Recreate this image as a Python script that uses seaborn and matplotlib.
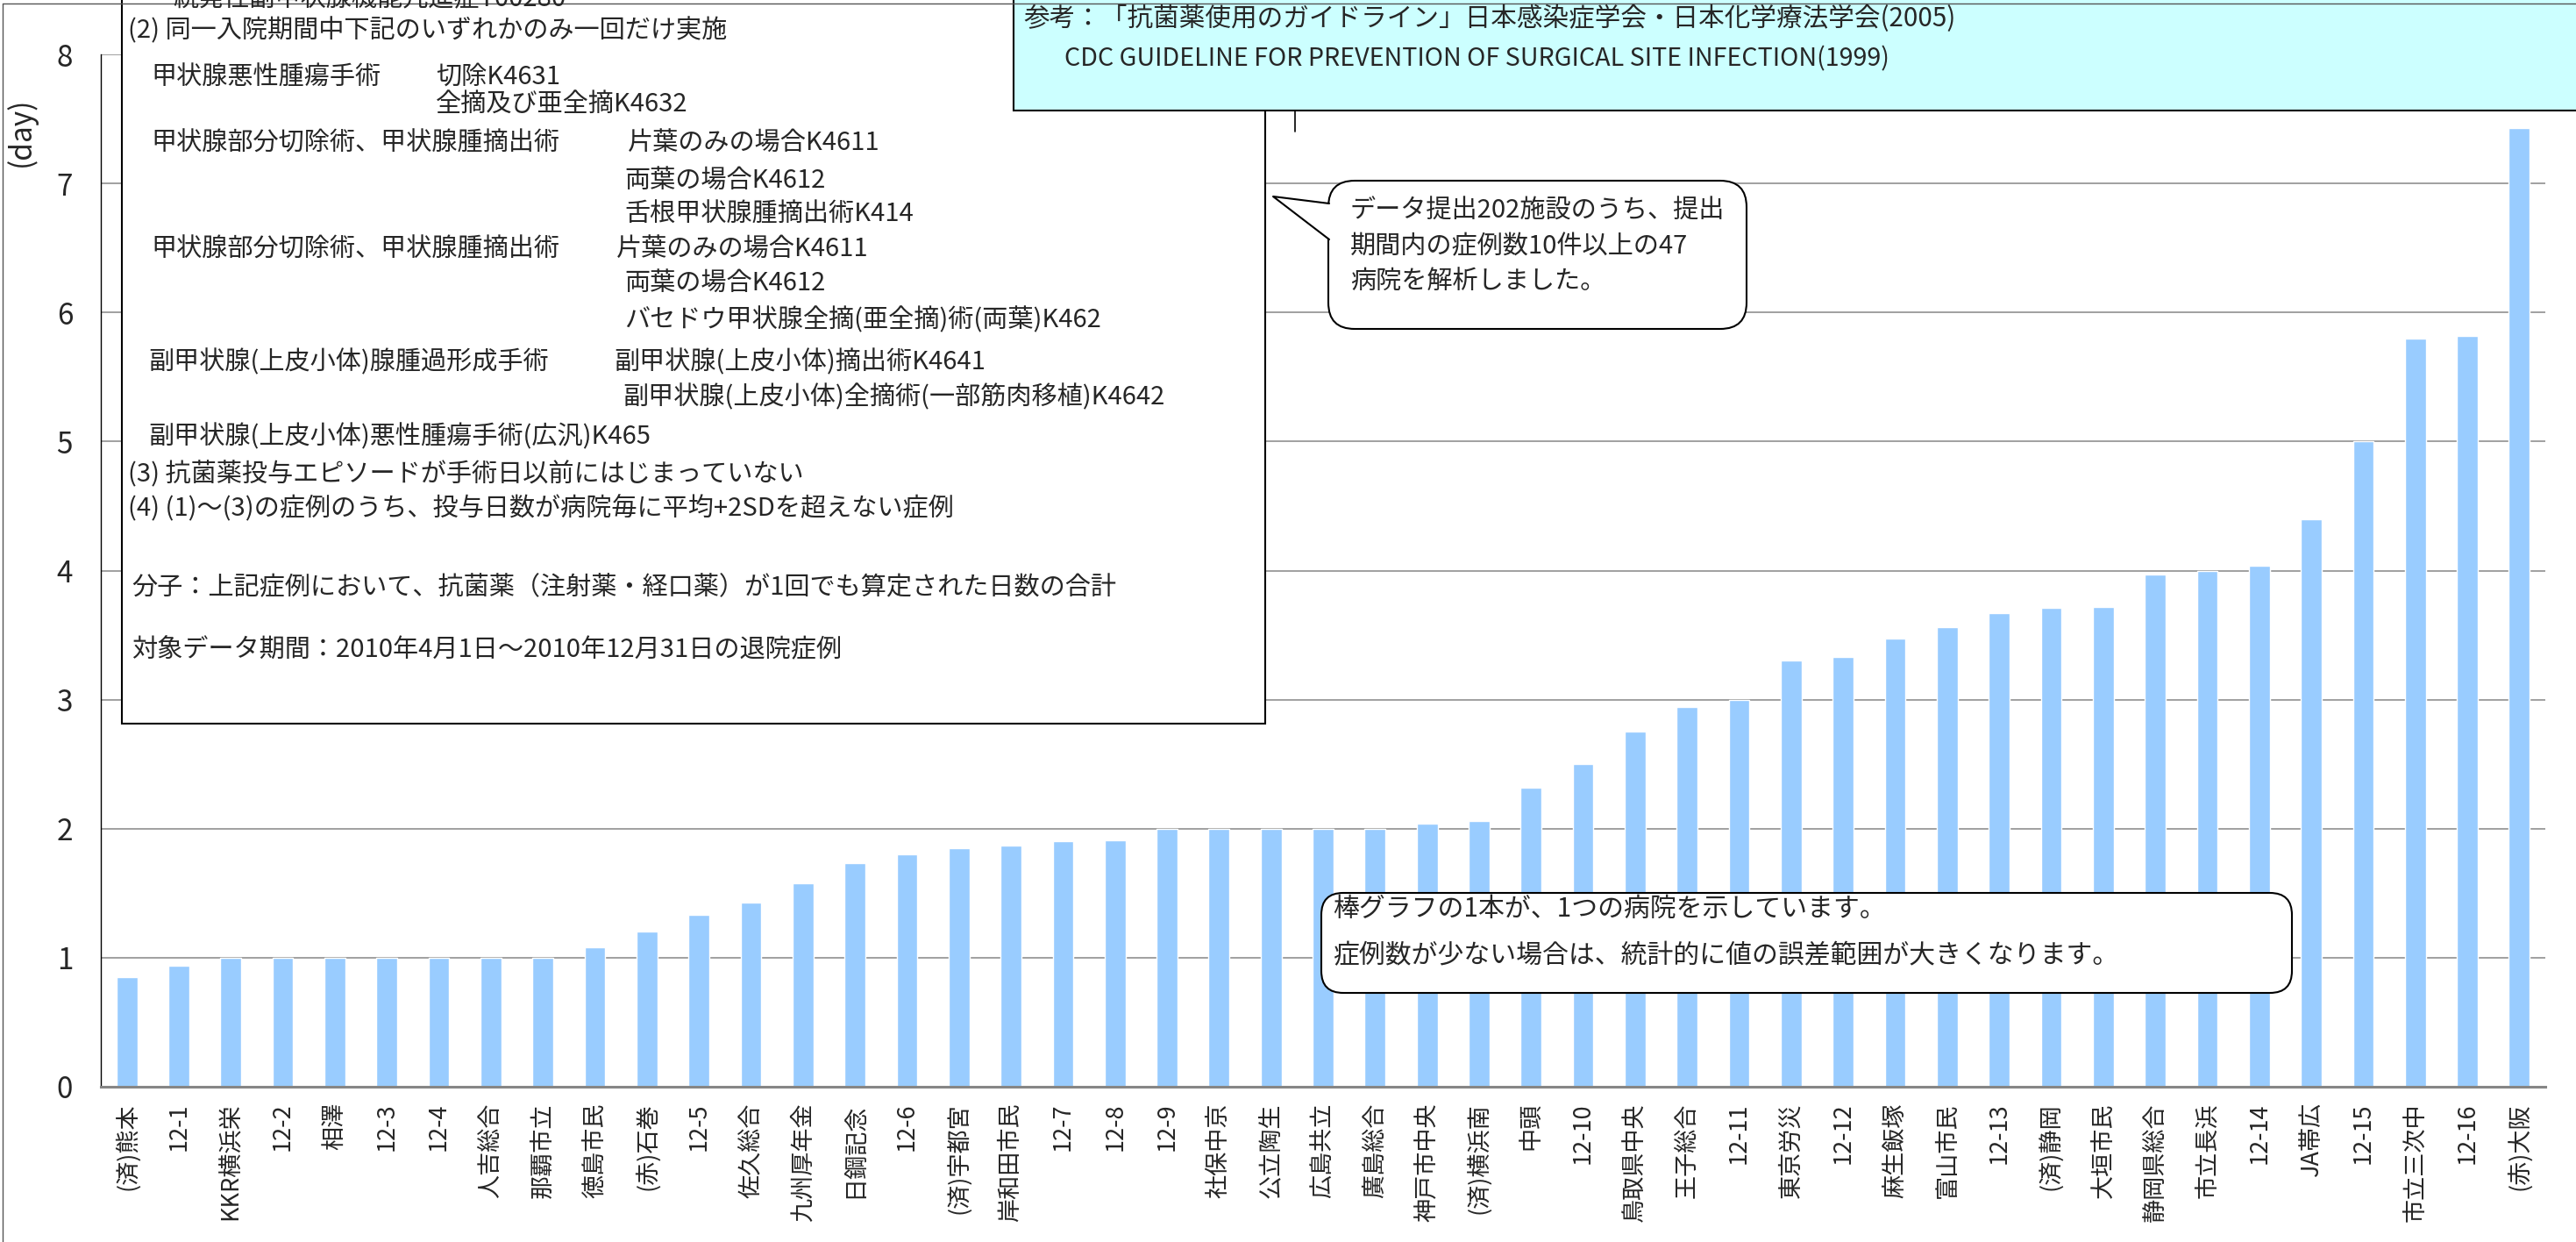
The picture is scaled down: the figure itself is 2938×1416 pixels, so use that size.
import numpy as np
import matplotlib
matplotlib.use("Agg")
import matplotlib.pyplot as plt
import seaborn as sns
from matplotlib.patches import Rectangle, FancyBboxPatch, Polygon

# hospitals, sorted by average days of antibiotic use
hospitals = ["(済)熊本", "12-1", "KKR横浜栄", "12-2", "相澤", "12-3", "12-4", "人吉総合", "那覇市立", "徳島市民",
             "(赤)石巻", "12-5", "佐久総合", "九州厚年金", "日鋼記念", "12-6", "(済)宇都宮", "岸和田市民", "12-7", "12-8",
             "12-9", "社保中京", "公立陶生", "広島共立", "廣島総合", "神戸市中央", "(済)横浜南", "中頭", "12-10", "鳥取県中央",
             "王子総合", "12-11", "東京労災", "12-12", "麻生飯塚", "富山市民", "12-13", "(済)静岡", "大垣市民", "静岡県総合",
             "市立長浜", "12-14", "JA帯広", "12-15", "市立三次中", "12-16", "(赤)大阪"]
days = [0.85, 0.94, 1.0, 1.0, 1.0, 1.0, 1.0, 1.0, 1.0, 1.08,
        1.20, 1.33, 1.43, 1.58, 1.73, 1.80, 1.85, 1.87, 1.90, 1.91,
        2.0, 2.0, 2.0, 2.0, 2.0, 2.04, 2.06, 2.32, 2.50, 2.75,
        2.94, 3.0, 3.30, 3.33, 3.47, 3.56, 3.67, 3.71, 3.72, 3.97,
        4.0, 4.04, 4.40, 5.0, 5.80, 5.82, 7.43]
y_ticks = list(range(0, 9))

notes = ["続発性副甲状腺機能亢進症T00280",
         "(2) 同一入院期間中下記のいずれかのみ一回だけ実施",
         "甲状腺悪性腫瘍手術", "切除K4631",
         "全摘及び亜全摘K4632",
         "甲状腺部分切除術、甲状腺腫摘出術", "片葉のみの場合K4611",
         "両葉の場合K4612",
         "舌根甲状腺腫摘出術K414",
         "甲状腺部分切除術、甲状腺腫摘出術", "片葉のみの場合K4611",
         "両葉の場合K4612",
         "バセドウ甲状腺全摘(亜全摘)術(両葉)K462",
         "副甲状腺(上皮小体)腺腫過形成手術", "副甲状腺(上皮小体)摘出術K4641",
         "副甲状腺(上皮小体)全摘術(一部筋肉移植)K4642",
         "副甲状腺(上皮小体)悪性腫瘍手術(広汎)K465",
         "(3) 抗菌薬投与エピソードが手術日以前にはじまっていない",
         "(4) (1)～(3)の症例のうち、投与日数が病院毎に平均+2SDを超えない症例",
         "分子：上記症例において、抗菌薬（注射薬・経口薬）が1回でも算定された日数の合計",
         "対象データ期間：2010年4月1日～2010年12月31日の退院症例"]
ref_lines = ["参考：「抗菌薬使用のガイドライン」日本感染症学会・日本化学療法学会(2005)",
             "CDC GUIDELINE FOR PREVENTION OF SURGICAL SITE INFECTION(1999)"]
bubble1 = ["データ提出202施設のうち、提出", "期間内の症例数10件以上の47", "病院を解析しました。"]
bubble2 = ["棒グラフの1本が、1つの病院を示しています。",
           "症例数が少ない場合は、統計的に値の誤差範囲が大きくなります。"]

sns.set_style("white")
JP = ["Noto Sans CJK JP", "DejaVu Sans"]
plt.rcParams["font.family"] = JP

W, H = 2938, 1416
fig = plt.figure(figsize=(W / 100, H / 100), dpi=100)
ax = fig.add_axes([115 / W, 1 - 1239 / H, (2903 - 115) / W, (1239 - 62) / H])

sns.barplot(x=hospitals, y=days, color="#99CCFF", saturation=1, width=0.4, ax=ax)

ax.set_xlim(-0.5, len(hospitals) - 0.5)
ax.set_ylim(0, 8)
ax.set_yticks(y_ticks)
ax.set_yticklabels([str(t) for t in y_ticks])
ax.yaxis.grid(True, color="#868686", lw=1.1)
ax.set_axisbelow(True)
ax.set_xlabel("")
ax.set_ylabel("")

ax.set_xticks(range(len(hospitals)))
ax.set_xticklabels(hospitals, rotation=90, ha="center", va="top")
ax.set_xticks(np.arange(-0.5, len(hospitals), 1), minor=True)
ax.tick_params(axis="x", which="major", length=0, pad=13, labelsize=19.5)
ax.tick_params(axis="x", which="minor", length=6, width=1.5, color="#868686", direction="out")
ax.tick_params(axis="y", which="major", length=6, width=1, color="black", direction="in",
               pad=23, labelsize=24)

for s in ["top", "right"]:
    ax.spines[s].set_visible(False)
ax.spines["left"].set_color("black")
ax.spines["left"].set_linewidth(1)
ax.spines["bottom"].set_color("#868686")
ax.spines["bottom"].set_linewidth(2.2)

# overlay in pixel coordinates for the boxes and callouts
ov = fig.add_axes([0, 0, 1, 1], zorder=5)
ov.set_xlim(0, W)
ov.set_ylim(H, 0)
ov.axis("off")
ov.patch.set_alpha(0)

ov.plot([3, 3], [4, H + 10], color="#555555", lw=1)
ov.plot([3, W + 10], [4, 4], color="#555555", lw=1)
ov.text(24, 150, "(day)", rotation=90, ha="center", va="center", fontsize=24)

# left note box
ov.add_patch(Rectangle((139, -20), 1443 - 139, 825 + 20, fc="white", ec="black", lw=1.5))
note_pos = [(197, -1), (146, 35), (172, 88), (497, 88), (497, 120),
            (172, 164), (716, 164), (712, 207), (712, 244),
            (172, 285), (703, 285), (712, 324), (712, 365),
            (169, 413), (700, 413), (710, 453), (169, 498),
            (146, 541), (146, 580), (150, 670), (150, 741)]
note_size = 21
for (x, y), t in zip(note_pos, notes):
    ov.text(x, y, t, ha="left", va="center", fontsize=note_size)

# reference box
ov.add_patch(Rectangle((1156, -20), W + 40 - 1156, 126 + 20, fc="#CCFFFF", ec="black", lw=1.5))
ov.text(1167, 21, ref_lines[0], ha="left", va="center", fontsize=21.3)
ov.text(1214, 67, ref_lines[1], ha="left", va="center", fontsize=20.7)
ov.plot([1477, 1477], [126, 150], color="black", lw=1.2)

# callout 1
ov.add_patch(FancyBboxPatch((1515, 206), 1992 - 1515, 375 - 206,
                            boxstyle="round,pad=0,rounding_size=30", fc="white", ec="black", lw=1.5))
ov.add_patch(Polygon([(1517, 232), (1452, 224), (1517, 273)], closed=True, fc="white", ec="none"))
ov.plot([1516, 1452, 1516], [232, 224, 273], color="black", lw=1.5)
for i, t in enumerate(bubble1):
    ov.text(1540, 241 + i * 40, t, ha="left", va="center", fontsize=21)

# callout 2
ov.add_patch(FancyBboxPatch((1507, 1018), 2614 - 1507, 1132 - 1018,
                            boxstyle="round,pad=0,rounding_size=25", fc="white", ec="black", lw=1.5))
for i, t in enumerate(bubble2):
    ov.text(1520, 1036 + i * 54, t, ha="left", va="center", fontsize=21.5)

fig.savefig("out.png", dpi=100)
